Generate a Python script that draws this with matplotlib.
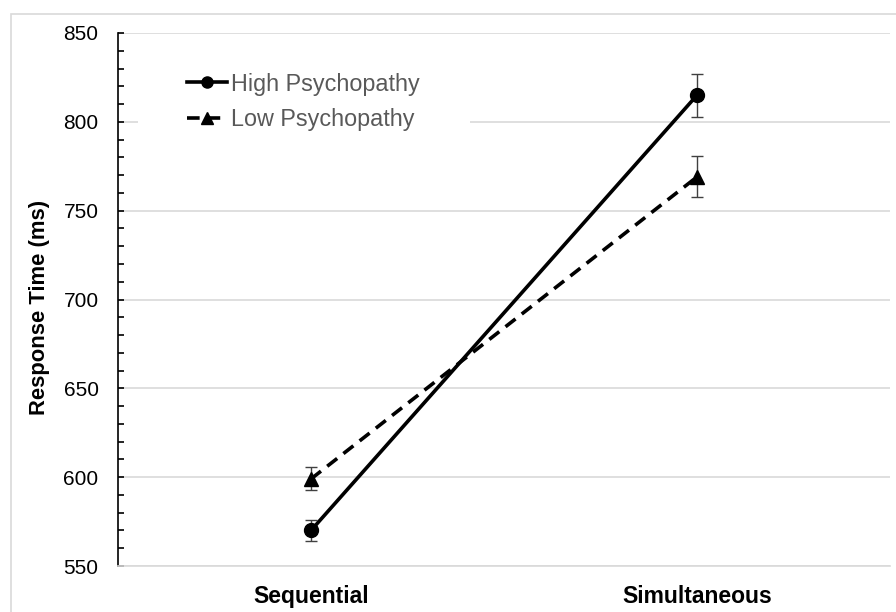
import matplotlib
matplotlib.use("Agg")
import matplotlib.pyplot as plt
from matplotlib.patches import Rectangle
from matplotlib.ticker import MultipleLocator

plt.rcParams['font.family'] = ['Liberation Sans', 'DejaVu Sans']

conditions = ["Sequential", "Simultaneous"]
high_rt = [570, 815]
high_err = [6, 12]
low_rt = [599, 769]
low_err = [6.5, 11.5]
series_labels = ["High Psychopathy", "Low Psychopathy"]

fig = plt.figure(figsize=(8.96, 6.12), dpi=100)
fig.patch.set_facecolor("white")
# light chart-area border
fig.add_artist(Rectangle((11 / 896, -0.05), 1.2, 1 - 14 / 612 + 0.05,
                         transform=fig.transFigure, fill=False,
                         edgecolor="#d9d9d9", linewidth=1.2))

ax = fig.add_axes([118 / 896, 1 - 566 / 612, 772 / 896, 533 / 612])
x = [0.5, 1.5]

ax.errorbar(x, high_rt, yerr=high_err, fmt="none", ecolor="#404040",
            elinewidth=1.0, capsize=4.5, capthick=1.0, zorder=2)
ax.errorbar(x, low_rt, yerr=low_err, fmt="none", ecolor="#404040",
            elinewidth=1.0, capsize=4.5, capthick=1.0, zorder=2)
ax.plot(x, high_rt, color="black", linewidth=2.6, marker="o",
        markersize=10, label=series_labels[0], zorder=3)
ax.plot(x, low_rt, color="black", linewidth=2.6, linestyle=(0, (3.5, 2.2)),
        marker="^", markersize=10, label=series_labels[1], zorder=3)

ax.set_xlim(0, 2)
ax.set_ylim(550, 850)
ax.set_xticks(x)
ax.set_xticklabels(conditions, fontsize=16.5, fontweight="bold")
ax.yaxis.set_major_locator(MultipleLocator(50))
ax.yaxis.set_minor_locator(MultipleLocator(10))
ax.tick_params(axis="y", which="both", direction="in", length=4,
               width=1.2, labelsize=15, pad=14)
ax.tick_params(axis="x", length=0, pad=14)
ax.grid(axis="y", which="major", color="#d9d9d9", linewidth=1.2)
ax.set_axisbelow(True)
for s in ["top", "right"]:
    ax.spines[s].set_visible(False)
ax.spines["bottom"].set_color("#d9d9d9")
ax.spines["bottom"].set_linewidth(1.2)
ax.spines["left"].set_color("black")
ax.spines["left"].set_linewidth(1.2)
ax.set_ylabel("Response Time (ms)", fontsize=15.8, fontweight="bold")
ax.yaxis.set_label_coords(-0.0881, 0.485)

# white legend background area
ax.add_patch(Rectangle((0.026, 0.80), 0.43, 0.155, transform=ax.transAxes,
                       facecolor="white", edgecolor="none", zorder=1))
leg = ax.legend(loc="upper left", bbox_to_anchor=(0.0894, 0.9256),
                frameon=False, fontsize=16.8, handlelength=1.7,
                handletextpad=0.17, labelspacing=0.52, borderpad=0,
                borderaxespad=0, markerscale=0.8)
for t in leg.get_texts():
    t.set_color("#595959")

fig.savefig("out.png", dpi=100)
